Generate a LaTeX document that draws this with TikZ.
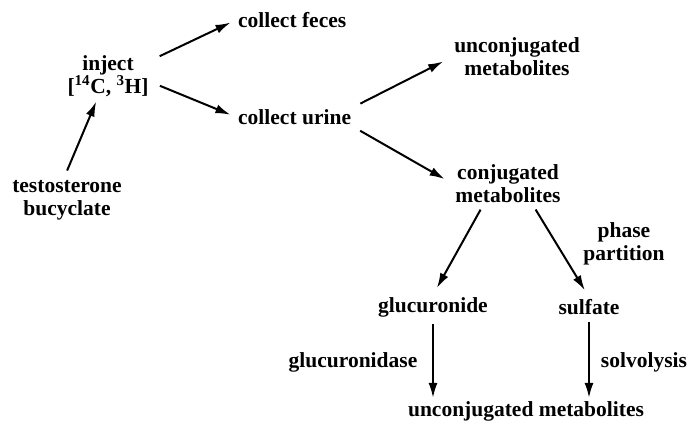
\documentclass[tikz,border=0pt]{standalone}
\usepackage{fontspec}
\setmainfont{Liberation Serif}
\usetikzlibrary{arrows.meta}
\tikzset{
  lbl/.style={font=\bfseries\fontsize{21.5}{23}\selectfont, align=center, inner sep=2pt},
  arr/.style={-{Latex[length=15pt,width=9pt]}, line width=2pt},
}
\begin{document}
\begin{tikzpicture}[x=1pt,y=-1pt]
\useasboundingbox (0,0) rectangle (690,426);
\node[lbl] (tb) at (67,200) {testosterone\\bucyclate};
\node[lbl] (inj) at (108,76) {inject\\{}[\textsuperscript{14}C, \textsuperscript{3}H]};
\node[lbl, anchor=west] (feces) at (236,20) {collect feces};
\node[lbl, anchor=west] (urine) at (236,117) {collect urine};
\node[lbl] (unconj) at (517,57) {unconjugated\\metabolites};
\node[lbl] (conj) at (508,184) {conjugated\\metabolites};
\node[lbl] (pp) at (624,244) {phase\\partition};
\node[lbl] (gluc) at (433,307) {glucuronide};
\node[lbl] (sulf) at (589,307) {sulfate};
\node[lbl] (gase) at (353,362) {glucuronidase};
\node[lbl] (solv) at (644,362) {solvolysis};
\node[lbl, anchor=base] (bot) at (526,416) {unconjugated metabolites};
\draw[arr, shorten <=8pt, shorten >=3pt] ([xshift=-3pt]tb.north) -- (inj.-115);
\draw[arr, shorten <=10pt, shorten >=6pt] (inj.20) -- (feces.west);
\draw[arr, shorten <=10pt, shorten >=6pt] (inj.-8) -- (urine.west);
\draw[arr, shorten <=8pt, shorten >=10pt] (urine.north east) -- (unconj.west);
\draw[arr, shorten <=8pt, shorten >=10pt] (urine.south east) -- (conj.west);
\draw[arr, shorten <=5pt, shorten >=8pt] ([xshift=-25pt]conj.south) -- (gluc.north);
\draw[arr, shorten <=5pt, shorten >=8pt] ([xshift=25pt]conj.south) -- (sulf.north);
\draw[arr, shorten <=5pt, shorten >=1pt] (gluc.south) -- (gluc.south |- bot.north);
\draw[arr, shorten <=5pt, shorten >=1pt] (sulf.south) -- (sulf.south |- bot.north);
\end{tikzpicture}
\end{document}
